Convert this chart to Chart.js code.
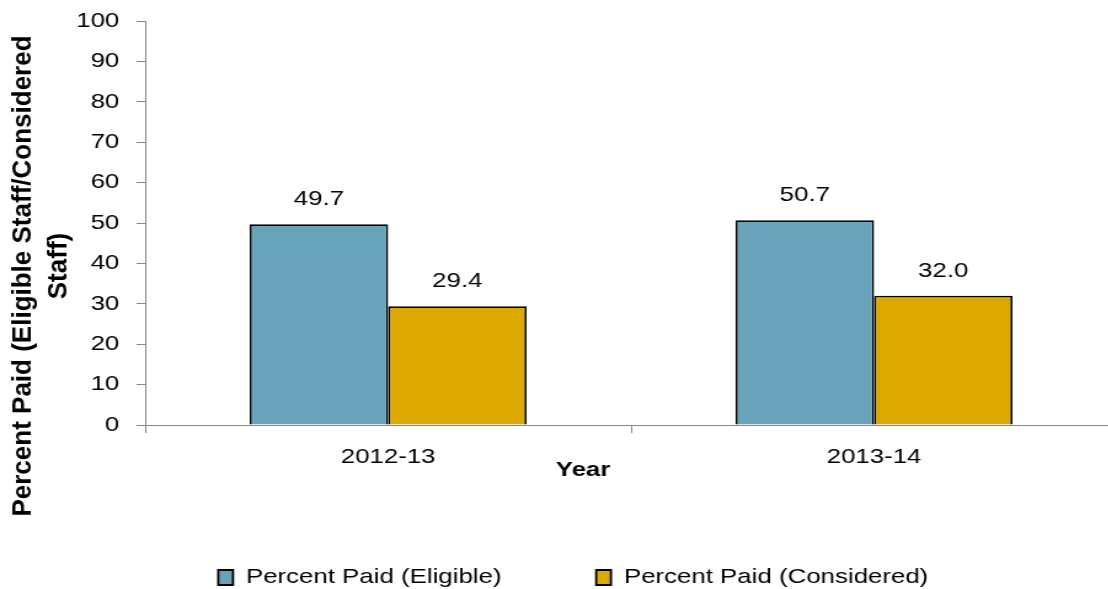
<!DOCTYPE html>
<html>
<head>
<meta charset="utf-8">
<script src="https://cdn.jsdelivr.net/npm/chart.js@4.4.0/dist/chart.umd.min.js"></script>
<style>
  html, body { margin: 0; padding: 0; background: #fff; }
  #wrap { width: 1108px; height: 589px; position: relative; overflow: hidden; }
  /* the original's text is wide for its height, so the canvas is drawn narrow and stretched */
  #myChart { display: block; width: 1117px; height: 589px; }
</style>
</head>
<body>
<div id="wrap"><canvas id="myChart" width="908" height="589" style="width:1117px;height:589px"></canvas></div>
<script>
// data
const categories = ["2012-13", "2013-14"];
const seriesNames = ["Percent Paid (Eligible)", "Percent Paid (Considered)"];
const eligible = [49.7, 50.7];
const considered = [29.4, 32.0];
const yMin = 0, yMax = 100, yStep = 10;
const xTitle = "Year";
const yTitle = ["Percent Paid (Eligible Staff/Considered", "Staff)"];

const FONT = "'Liberation Sans', Arial, sans-serif";
const axisGray = "#868686";

// values above bars
const valueLabels = {
    id: "valueLabels",
    afterDatasetsDraw(chart) {
        const ctx = chart.ctx;
        ctx.save();
        ctx.font = "21px " + FONT;
        ctx.fillStyle = "#000";
        ctx.textAlign = "center";
        ctx.textBaseline = "alphabetic";
        chart.data.datasets.forEach(function(ds, i) {
            const meta = chart.getDatasetMeta(i);
            meta.data.forEach(function(bar, j) {
                ctx.fillText(ds.data[j].toFixed(1), bar.x, bar.y - 19);
            });
        });
        ctx.restore();
    }
};

// axis titles, placed like the original (not centred on the plot)
const axisTitles = {
    id: "axisTitles",
    afterDraw(chart) {
        const ctx = chart.ctx;
        const area = chart.chartArea;
        ctx.save();
        ctx.font = "bold 21px " + FONT;
        ctx.fillStyle = "#000";
        ctx.textAlign = "center";
        ctx.textBaseline = "middle";
        ctx.fillText(xTitle, 474, area.bottom + 45);
        ctx.restore();

        ctx.save();
        ctx.font = "bold 26px " + FONT;
        ctx.fillStyle = "#000";
        ctx.textAlign = "center";
        ctx.textBaseline = "middle";
        ctx.translate(19, 276);
        ctx.scale(0.86, 1);
        ctx.rotate(-Math.PI / 2);
        ctx.fillText(yTitle[0], 0, 0);
        ctx.fillText(yTitle[1], 10, 34);
        ctx.restore();
    }
};

// nudge legend to the right like in the original
const legendShift = {
    id: "legendShift",
    afterLayout(chart) {
        if (chart.legend) {
            chart.legend.left += 12;
            chart.legend.right += 12;
        }
    }
};

function main() {
    const ctx = document.getElementById("myChart").getContext("2d");
    new Chart(ctx, {
        type: "bar",
        data: {
            labels: categories,
            datasets: [{
                label: seriesNames[0],
                data: eligible,
                backgroundColor: "#68a3ba",
                borderColor: "#000",
                borderWidth: 1.8,
                categoryPercentage: 0.57,
                barPercentage: 1.0
            }, {
                label: seriesNames[1],
                data: considered,
                backgroundColor: "#dba900",
                borderColor: "#000",
                borderWidth: 1.8,
                categoryPercentage: 0.57,
                barPercentage: 1.0
            }]
        },
        options: {
            responsive: false,
            animation: false,
            devicePixelRatio: 1,
            layout: { padding: { top: 21, left: 0, right: 0, bottom: -9 } },
            plugins: {
                tooltip: { enabled: false },
                legend: {
                    position: "bottom",
                    labels: {
                        boxWidth: 12,
                        boxHeight: 15,
                        padding: 77,
                        color: "#000",
                        font: { family: FONT, size: 21 }
                    }
                }
            },
            scales: {
                x: {
                    border: { color: axisGray, width: 1 },
                    grid: { drawOnChartArea: false, drawTicks: true, tickLength: 8, color: axisGray },
                    ticks: { color: "#000", padding: 12, font: { family: FONT, size: 21 } },
                    afterFit(scale) {
                        scale.height = 65;
                        scale.paddingLeft = 0;
                        scale.paddingRight = 0;
                    }
                },
                y: {
                    min: yMin,
                    max: yMax,
                    border: { color: axisGray, width: 1 },
                    grid: { drawOnChartArea: false, drawTicks: true, tickLength: 7, color: axisGray },
                    ticks: { stepSize: yStep, color: "#000", padding: 14, font: { family: FONT, size: 21 } },
                    afterFit(scale) {
                        scale.width = 118;
                        scale.paddingTop = 0;
                        scale.paddingBottom = 0;
                    }
                }
            }
        },
        plugins: [valueLabels, axisTitles, legendShift]
    });
}

document.addEventListener("DOMContentLoaded", main);
</script>
</body>
</html>
